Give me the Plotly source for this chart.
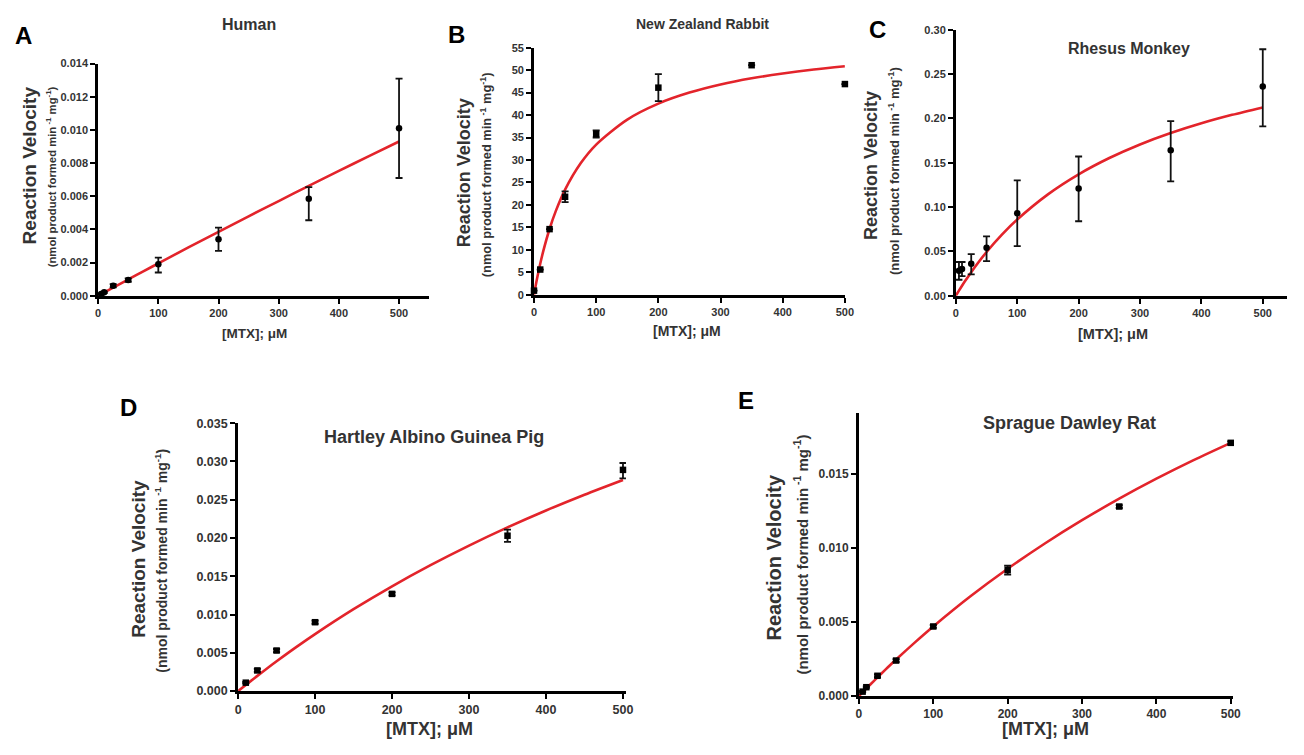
import plotly.graph_objects as go

# ---------------- data ----------------
X_TICKS = [0, 100, 200, 300, 400, 500]
CURVE_X = [0, 5, 10, 15, 25, 35, 50, 75, 100, 150, 200, 250, 300, 350, 400, 450, 500]

# A: Human
A_x = [5, 10, 25, 50, 100, 200, 350, 500]
A_y = [0.0001, 0.0002, 0.0006, 0.00094, 0.0019, 0.0034, 0.00585, 0.0101]
A_err_plus = [0.00005, 0.00005, 0.0001, 0.0001, 0.0004, 0.0007, 0.0007, 0.0030]
A_err_minus = [0.00005, 0.00005, 0.0001, 0.0001, 0.0005, 0.0007, 0.0013, 0.0030]
A_curve = [0, 0.0000987, 0.000197, 0.000296, 0.000492, 0.000688, 0.00098, 0.00147,
           0.00195, 0.00291, 0.00385, 0.00479, 0.00571, 0.00663, 0.00753, 0.00842, 0.0093]
A_yticks = [0, 0.002, 0.004, 0.006, 0.008, 0.010, 0.012, 0.014]

# B: New Zealand Rabbit
B_x = [0, 10, 25, 50, 100, 200, 350, 500]
B_y = [0.9, 5.6, 14.6, 21.8, 35.8, 46.1, 51.1, 46.9]
B_err_plus = [0, 0, 0, 1.2, 0.8, 3.0, 0, 0]
B_err_minus = [0, 0, 0, 1.2, 0.8, 3.0, 0, 0]
B_curve = [0, 3.66, 6.88, 9.75, 14.63, 18.61, 23.4, 29.25, 33.43, 39.0, 42.55,
           45.0, 46.8, 48.18, 49.26, 50.14, 50.87]
B_yticks = [0, 5, 10, 15, 20, 25, 30, 35, 40, 45, 50, 55]

# C: Rhesus Monkey
C_x = [5, 10, 25, 50, 100, 200, 350, 500]
C_y = [0.028, 0.030, 0.036, 0.054, 0.093, 0.121, 0.164, 0.236]
C_err_plus = [0.010, 0.008, 0.011, 0.013, 0.037, 0.036, 0.033, 0.042]
C_err_minus = [0.010, 0.008, 0.012, 0.015, 0.037, 0.037, 0.035, 0.045]
C_curve = [0, 0.00568, 0.01116, 0.01647, 0.02658, 0.03607, 0.04927, 0.06885, 0.08593,
           0.1143, 0.1369, 0.1553, 0.1706, 0.1835, 0.1945, 0.2040, 0.2124]
C_yticks = [0, 0.05, 0.10, 0.15, 0.20, 0.25, 0.30]

# D: Hartley Albino Guinea Pig
D_x = [10, 25, 50, 100, 200, 350, 500]
D_y = [0.0011, 0.0027, 0.0053, 0.0090, 0.0127, 0.0203, 0.0289]
D_err_plus = [0.0001, 0.0002, 0.0002, 0.0002, 0.0002, 0.0008, 0.0009]
D_err_minus = [0.0001, 0.0002, 0.0002, 0.0002, 0.0002, 0.0008, 0.0011]
D_curve = [0, 0.000406, 0.000808, 0.001206, 0.001991, 0.002762, 0.003891, 0.005707,
           0.007443, 0.010698, 0.013692, 0.016455, 0.019012, 0.021386, 0.023596,
           0.025658, 0.027587]
D_yticks = [0, 0.005, 0.010, 0.015, 0.020, 0.025, 0.030, 0.035]

# E: Sprague Dawley Rat
E_x = [5, 10, 25, 50, 100, 200, 350, 500]
E_y = [0.0003, 0.0006, 0.00137, 0.0024, 0.0047, 0.0085, 0.0128, 0.0171]
E_err_plus = [0.00005, 0.00005, 0.0001, 0.0001, 0.0001, 0.0003, 0.0001, 0.0001]
E_err_minus = [0.00005, 0.00005, 0.0001, 0.0001, 0.0001, 0.0003, 0.0001, 0.0001]
E_curve = [0, 0.000258, 0.000513, 0.000766, 0.001264, 0.001752, 0.002466, 0.00361,
           0.0047, 0.006735, 0.008596, 0.010304, 0.011877, 0.013331, 0.014678,
           0.015931, 0.017098]
E_yticks = [0, 0.005, 0.010, 0.015]

TITLES = ["Human", "New Zealand Rabbit", "Rhesus Monkey",
          "Hartley Albino Guinea Pig", "Sprague Dawley Rat"]
LETTERS = ["A", "B", "C", "D", "E"]

# ---------------- layout geometry (window pixels) ----------------
PAGE_MARGIN = 8            # default body margin of the html page
WIN_W, WIN_H = 1304, 755
W, H = WIN_W - 2 * PAGE_MARGIN, WIN_H - 2 * PAGE_MARGIN
FONT = "Liberation Sans, Arial, sans-serif"
RED = "#e3242b"
# empirical correction of the rendered placement
SX, BX = 0.991, 1.9
SY, BY = 0.985, 5.3


def cx(x):
    return (x - BX) / SX


def cy(y):
    return (y - BY) / SY


def px(x):
    return (cx(x) - PAGE_MARGIN) / W


def py(y):
    return 1 - (cy(y) - PAGE_MARGIN) / H


def clamp(v, lo=0.0, hi=1.0):
    return max(lo, min(hi, v))


panels = [
    dict(x=A_x, y=A_y, ep=A_err_plus, em=A_err_minus, curve=A_curve, yt=A_yticks,
         fmt="{:.3f}", sym="circle", xpx=(97, 398, 428), ypx=(295, 62), ytop=0.014,
         title_xy=(248, 20), title_size=16, letter_xy=(22, 34),
         ymain_xy=(28, 164), ysub_xy=(50, 176), ymain_size=19, ysub_size=11.3,
         xt_xy=(253, 333), xt_size=13.5, tick_size=11),
    dict(x=B_x, y=B_y, ep=B_err_plus, em=B_err_minus, curve=B_curve, yt=B_yticks,
         fmt="{:d}", sym="square", xpx=(533, 844, 844), ypx=(294, 46), ytop=55,
         title_xy=(702, 22), title_size=14, letter_xy=(455, 33),
         ymain_xy=(463, 172), ysub_xy=(485, 174), ymain_size=18, ysub_size=12.8,
         xt_xy=(686, 330), xt_size=14, tick_size=11),
    dict(x=C_x, y=C_y, ep=C_err_plus, em=C_err_minus, curve=C_curve, yt=C_yticks,
         fmt="{:.2f}", sym="circle", xpx=(955, 1262, 1295), ypx=(295, 28), ytop=0.30,
         title_xy=(1128, 47), title_size=16, letter_xy=(877, 19),
         ymain_xy=(870, 164), ysub_xy=(893, 170), ymain_size=18, ysub_size=13,
         xt_xy=(1112, 333), xt_size=14.5, tick_size=11),
    dict(x=D_x, y=D_y, ep=D_err_plus, em=D_err_minus, curve=D_curve, yt=D_yticks,
         fmt="{:.3f}", sym="square", xpx=(237, 622, 625), ypx=(692, 423), ytop=0.035,
         title_xy=(433, 437), title_size=18, letter_xy=(127, 407),
         ymain_xy=(138, 559), ysub_xy=(160, 561), ymain_size=19, ysub_size=14,
         xt_xy=(428, 734), xt_size=18, tick_size=12.5),
    dict(x=E_x, y=E_y, ep=E_err_plus, em=E_err_minus, curve=E_curve, yt=E_yticks,
         fmt="{:.3f}", sym="square", xpx=(858, 1230, 1232), ypx=(697, 413), ytop=0.0191,
         title_xy=(1069, 423), title_size=18, letter_xy=(745, 400),
         ymain_xy=(773, 558), ysub_xy=(800, 555), ymain_size=20, ysub_size=15,
         xt_xy=(1045, 730), xt_size=18, tick_size=12),
]

fig = go.Figure()
annotations = []
layout_axes = {}

for i, p in enumerate(panels):
    n = "" if i == 0 else str(i + 1)
    xa, ya = "x" + n, "y" + n

    fig.add_trace(go.Scatter(
        x=CURVE_X, y=p["curve"], xaxis=xa, yaxis=ya, mode="lines",
        line=dict(color=RED, width=2.6, shape="spline", smoothing=0.8),
        showlegend=False, hoverinfo="skip", cliponaxis=False))
    fig.add_trace(go.Scatter(
        x=p["x"], y=p["y"], xaxis=xa, yaxis=ya, mode="markers",
        marker=dict(color="black", size=6.5, symbol=p["sym"]),
        error_y=dict(type="data", symmetric=False, array=p["ep"], arrayminus=p["em"],
                     color="#111", thickness=1.8, width=3.5),
        showlegend=False, cliponaxis=False))

    # x axis: pixel of value 0, of value 500, and of the axis end
    d0 = px(p["xpx"][0])
    d500 = px(p["xpx"][1])
    dend = clamp(px(p["xpx"][2]))
    xr_end = 500 * (dend - d0) / (d500 - d0)
    # y axis: pixel of value 0 and of the axis top
    yb = py(p["ypx"][0])
    yt = py(p["ypx"][1])

    common = dict(showline=True, linecolor="black", linewidth=2.8, ticks="outside",
                  ticklen=5, tickwidth=2.2, tickcolor="black", showgrid=False,
                  zeroline=False,
                  tickfont=dict(family=FONT, size=p["tick_size"], color="#333",
                                weight="bold"))
    layout_axes["xaxis" + n] = dict(
        common, domain=[d0, dend], range=[0, xr_end],
        anchor=ya, tickvals=X_TICKS, ticktext=[str(v) for v in X_TICKS])
    if p["fmt"] == "{:d}":
        ytext = [str(int(v)) for v in p["yt"]]
    else:
        ytext = [p["fmt"].format(v) for v in p["yt"]]
    layout_axes["yaxis" + n] = dict(
        common, domain=[yb, yt], range=[0, p["ytop"]],
        anchor=xa, tickvals=p["yt"], ticktext=ytext)

    def ann(text, xy, size, angle=0, weight="bold", color="#222"):
        half = size * 0.6
        ypos = clamp(py(xy[1]), half / H, 1 - half / H)
        annotations.append(dict(
            text=text, x=px(xy[0]), y=ypos, xref="paper", yref="paper",
            xanchor="center", yanchor="middle", showarrow=False, textangle=angle,
            font=dict(family=FONT, size=size, color=color, weight=weight)))

    ann(TITLES[i], p["title_xy"], p["title_size"], color="#333")
    ann(LETTERS[i], p["letter_xy"], 24, color="black")
    ann("Reaction Velocity", p["ymain_xy"], p["ymain_size"], angle=-90, color="#333")
    ann("(nmol product formed min<sup> -1</sup> mg<sup>-1</sup>)", p["ysub_xy"],
        p["ysub_size"], angle=-90, color="#333")
    ann("[MTX]; μM", p["xt_xy"], p["xt_size"], color="#333")

fig.update_layout(
    width=W, height=H, margin=dict(l=0, r=0, t=0, b=0),
    paper_bgcolor="white", plot_bgcolor="white",
    annotations=annotations, showlegend=False, **layout_axes)

fig.write_html("out.html")
